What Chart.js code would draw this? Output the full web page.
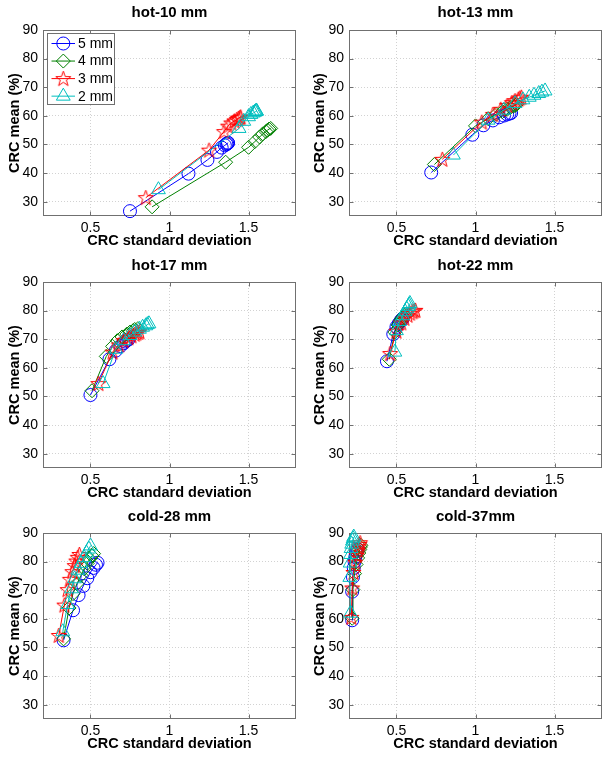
<!DOCTYPE html>
<html><head><meta charset="utf-8">
<script src="https://cdn.jsdelivr.net/npm/chart.js@4.4.1/dist/chart.umd.min.js"></script>
<style>
html,body{margin:0;padding:0;background:#fff;width:611px;height:757px;overflow:hidden}
canvas{position:absolute}
</style></head><body>
<canvas id="c0" width="305" height="250" style="left:0;top:0"></canvas>
<canvas id="c1" width="306" height="250" style="left:305px;top:0"></canvas>
<canvas id="c2" width="305" height="250" style="left:0;top:252px"></canvas>
<canvas id="c3" width="306" height="250" style="left:305px;top:252px"></canvas>
<canvas id="c4" width="305" height="250" style="left:0;top:503px"></canvas>
<canvas id="c5" width="306" height="250" style="left:305px;top:503px"></canvas>
<script>
// ---------- data ----------
const panelTitles = ['hot-10 mm', 'hot-13 mm', 'hot-17 mm', 'hot-22 mm', 'cold-28 mm', 'cold-37mm'];
const seriesLabels = ['5 mm', '4 mm', '3 mm', '2 mm'];
const xTicks = [0.5, 1, 1.5];
const yTicks = [30, 40, 50, 60, 70, 80, 90];
const xLabel = 'CRC standard deviation';
const yLabel = 'CRC mean (%)';

// [CRC std, CRC mean]
const hot10_5mm = [[0.75,26.7],[1.12,39.8],[1.24,44.6],[1.30,47.4],[1.33,48.9],[1.35,49.7],[1.36,50.1],[1.365,50.3],[1.37,50.5],[1.37,50.6]];
const hot10_4mm = [[0.89,28.2],[1.355,43.8],[1.50,49.0],[1.54,51.0],[1.57,52.6],[1.59,53.7],[1.61,54.5],[1.62,55.0],[1.63,55.4],[1.64,55.6]];
const hot10_3mm = [[0.85,31.4],[1.25,48.0],[1.345,54.5],[1.37,56.4],[1.39,57.5],[1.41,58.2],[1.425,58.7],[1.435,59.1],[1.445,59.4],[1.45,59.6]];
const hot10_2mm = [[0.93,34.2],[1.44,55.6],[1.47,58.1],[1.50,59.7],[1.515,60.5],[1.53,61.0],[1.54,61.3],[1.545,61.5],[1.55,61.6],[1.55,61.7]];

const hot13_5mm = [[0.72,40.2],[0.98,53.4],[1.05,56.7],[1.11,58.4],[1.15,59.5],[1.18,60.1],[1.20,60.5],[1.215,60.8],[1.225,61.0]];
const hot13_4mm = [[0.74,43.0],[1.00,56.5],[1.08,59.0],[1.13,60.5],[1.17,61.5],[1.20,62.3],[1.22,62.9],[1.24,63.4],[1.25,63.7],[1.26,64.0]];
const hot13_3mm = [[0.79,44.8],[1.04,57.8],[1.11,60.5],[1.16,62.3],[1.20,63.6],[1.23,64.6],[1.25,65.3],[1.27,65.8],[1.28,66.2],[1.29,66.5]];
const hot13_2mm = [[0.86,46.3],[1.08,58.5],[1.18,62.0],[1.25,64.3],[1.30,65.6],[1.34,66.5],[1.37,67.2],[1.40,67.8],[1.42,68.3],[1.44,68.7]];

const hot17_5mm = [[0.50,50.5],[0.62,63.0],[0.66,66.0],[0.69,67.6],[0.71,68.6],[0.72,69.2],[0.73,69.6],[0.74,69.9]];
const hot17_4mm = [[0.51,52.0],[0.60,64.0],[0.64,67.5],[0.67,69.5],[0.70,70.8],[0.73,71.8],[0.75,72.5],[0.77,73.0],[0.78,73.4],[0.80,73.7]];
const hot17_3mm = [[0.55,54.5],[0.64,65.5],[0.68,68.0],[0.71,69.5],[0.74,70.5],[0.76,71.2],[0.78,71.7],[0.79,72.1],[0.80,72.4],[0.81,72.6]];
const hot17_2mm = [[0.58,54.5],[0.66,66.5],[0.71,69.5],[0.75,71.3],[0.78,72.5],[0.81,73.5],[0.83,74.2],[0.85,74.7],[0.86,75.1],[0.87,75.4]];

const hot22_5mm = [[0.44,62.3],[0.48,71.8],[0.50,74.3],[0.515,75.5],[0.525,76.2],[0.53,76.7],[0.535,77.0],[0.54,77.2]];
const hot22_4mm = [[0.455,63.0],[0.49,72.5],[0.51,75.0],[0.525,76.4],[0.535,77.3],[0.545,77.9],[0.55,78.3],[0.555,78.6]];
const hot22_3mm = [[0.46,65.0],[0.50,72.8],[0.53,75.7],[0.55,77.3],[0.57,78.4],[0.585,79.1],[0.60,79.6],[0.61,79.9],[0.62,80.1]];
const hot22_2mm = [[0.49,65.5],[0.50,73.0],[0.52,76.2],[0.54,78.2],[0.555,79.6],[0.565,80.6],[0.575,81.4],[0.58,82.0],[0.585,82.5]];

const cold28_5mm = [[0.33,52.5],[0.39,63.0],[0.425,68.3],[0.455,71.5],[0.48,74.2],[0.50,76.3],[0.52,77.8],[0.535,78.9],[0.545,79.6]];
const cold28_4mm = [[0.33,53.0],[0.365,63.8],[0.39,68.8],[0.415,72.3],[0.44,75.2],[0.46,77.5],[0.48,79.4],[0.495,80.9],[0.51,82.0],[0.52,82.8]];
const cold28_3mm = [[0.30,54.2],[0.335,64.8],[0.355,70.2],[0.37,73.8],[0.385,76.5],[0.40,78.6],[0.41,80.2],[0.42,81.5],[0.43,82.5]];
const cold28_2mm = [[0.325,55.5],[0.355,65.0],[0.38,70.5],[0.40,74.0],[0.42,77.0],[0.44,79.4],[0.46,81.4],[0.475,83.0],[0.49,84.4],[0.50,85.5]];

const cold37_5mm = [[0.22,59.5],[0.22,69.5],[0.225,74.6],[0.23,77.8],[0.235,80.0],[0.24,81.6],[0.245,82.8],[0.25,83.7],[0.255,84.3]];
const cold37_4mm = [[0.22,60.2],[0.225,70.2],[0.235,75.8],[0.245,79.0],[0.255,81.3],[0.262,83.0],[0.268,84.2],[0.272,85.1],[0.275,85.7]];
const cold37_3mm = [[0.215,60.5],[0.22,70.8],[0.228,76.2],[0.238,79.8],[0.248,82.2],[0.255,84.0],[0.262,85.2],[0.266,86.0],[0.27,86.6]];
const cold37_2mm = [[0.21,62.0],[0.205,74.5],[0.207,79.5],[0.21,82.5],[0.213,84.6],[0.217,86.1],[0.222,87.2],[0.226,88.0],[0.23,88.6]];

const panelSeries = [
  [hot10_5mm, hot10_4mm, hot10_3mm, hot10_2mm],
  [hot13_5mm, hot13_4mm, hot13_3mm, hot13_2mm],
  [hot17_5mm, hot17_4mm, hot17_3mm, hot17_2mm],
  [hot22_5mm, hot22_4mm, hot22_3mm, hot22_2mm],
  [cold28_5mm, cold28_4mm, cold28_3mm, cold28_2mm],
  [cold37_5mm, cold37_4mm, cold37_3mm, cold37_2mm]
];

// ---------- styles ----------
const FONT = '"Liberation Sans", Arial, Helvetica, sans-serif';
Chart.defaults.font.family = FONT;
Chart.defaults.color = '#000';
const colors = ['#0000ff', '#008000', '#ff0000', '#00bfbf'];

function makeStar(color, R) {
  const s = Math.ceil(2 * R + 3);
  const c = document.createElement('canvas');
  c.width = s; c.height = s;
  const g = c.getContext('2d');
  g.strokeStyle = color; g.lineWidth = 1;
  g.beginPath();
  for (let i = 0; i < 10; i++) {
    const rr = i % 2 ? R * 0.4 : R;
    const a = -Math.PI / 2 + i * Math.PI / 5;
    const px = s / 2 + rr * Math.cos(a), py = s / 2 + 0.5 + rr * Math.sin(a);
    if (i) g.lineTo(px, py); else g.moveTo(px, py);
  }
  g.closePath(); g.stroke();
  return c;
}
const markerStyles = ['circle', 'rectRot', makeStar(colors[2], 8), 'triangle'];
const markerRadius = [6.5, 7, 8, 8];

function drawMarker(ctx, style, x, y, r, color) {
  ctx.save();
  ctx.strokeStyle = color; ctx.lineWidth = 1;
  if (typeof style === 'object') {
    ctx.drawImage(style, x - style.width / 2, y - style.height / 2);
    ctx.restore(); return;
  }
  ctx.beginPath();
  if (style === 'circle') ctx.arc(x, y, r, 0, 2 * Math.PI);
  else if (style === 'rectRot') { ctx.moveTo(x - r, y); ctx.lineTo(x, y - r); ctx.lineTo(x + r, y); ctx.lineTo(x, y + r); ctx.closePath(); }
  else if (style === 'triangle') {
    for (let k = 0; k < 3; k++) {
      const a = k * 2 * Math.PI / 3;
      const px = x + r * Math.sin(a), py = y - r * Math.cos(a);
      if (k) ctx.lineTo(px, py); else ctx.moveTo(px, py);
    }
    ctx.closePath();
  }
  ctx.stroke();
  ctx.restore();
}

const frame = {
  id: 'frame',
  beforeDatasetsDraw(chart) {
    const { ctx, chartArea: a, scales: { x, y } } = chart;
    ctx.save();
    ctx.strokeStyle = '#707070'; ctx.lineWidth = 1;
    const L = Math.round(a.left) + 0.5, R = Math.round(a.right) - 0.5;
    const T = Math.round(a.top) + 0.5, B = Math.round(a.bottom) - 0.5;
    ctx.strokeRect(L, T, R - L, B - T);
    ctx.beginPath();
    xTicks.forEach(v => {
      const px = Math.round(x.getPixelForValue(v)) + 0.5;
      ctx.moveTo(px, B); ctx.lineTo(px, B - 4);
      ctx.moveTo(px, T); ctx.lineTo(px, T + 4);
    });
    yTicks.forEach(v => {
      const py = Math.round(y.getPixelForValue(v)) + 0.5;
      ctx.moveTo(L, py); ctx.lineTo(L + 4, py);
      ctx.moveTo(R, py); ctx.lineTo(R - 4, py);
    });
    ctx.stroke();
    ctx.restore();
  }
};

const mlegend = {
  id: 'mlegend',
  afterDatasetsDraw(chart, args, opts) {
    if (!opts || !opts.show) return;
    const { ctx, chartArea: a } = chart;
    const x0 = Math.round(a.left) + 4, y0 = Math.round(a.top) + 3, w = 67, h = 71;
    ctx.save();
    ctx.fillStyle = '#fff';
    ctx.fillRect(x0, y0, w, h);
    ctx.strokeStyle = '#707070'; ctx.lineWidth = 1;
    ctx.strokeRect(x0 + 0.5, y0 + 0.5, w, h);
    chart.data.datasets.forEach((ds, i) => {
      const cy = y0 + 10.5 + i * 17.55;
      ctx.strokeStyle = ds.borderColor; ctx.lineWidth = 1;
      ctx.beginPath(); ctx.moveTo(x0 + 4.5, cy); ctx.lineTo(x0 + 28, cy); ctx.stroke();
      drawMarker(ctx, ds.pointStyle, x0 + 16.3, cy, ds.pointRadius, ds.borderColor);
      ctx.fillStyle = '#000';
      ctx.font = '14px ' + FONT;
      ctx.textBaseline = 'middle'; ctx.textAlign = 'left';
      ctx.fillText(ds.label, x0 + 31, cy + 0.5);
    });
    ctx.restore();
  }
};

panelSeries.forEach((series, p) => {
  const col = p % 2, row = Math.floor(p / 2);
  const titlePadTop = row === 0 ? 4 : 5;
  const ctx = document.getElementById('c' + p).getContext('2d');
  new Chart(ctx, {
    type: 'scatter',
    data: {
      datasets: series.map((pts, i) => ({
        label: seriesLabels[i],
        data: pts.map(([x, y]) => ({ x, y })),
        showLine: true,
        borderColor: colors[i],
        borderWidth: 1,
        backgroundColor: 'rgba(0,0,0,0)',
        pointStyle: markerStyles[i],
        pointRadius: markerRadius[i],
        pointHoverRadius: markerRadius[i],
        pointBorderColor: colors[i],
        pointBackgroundColor: 'rgba(0,0,0,0)',
        pointBorderWidth: 1,
        order: 3 - i,
        clip: false
      }))
    },
    options: {
      responsive: false,
      animation: false,
      events: [],
      devicePixelRatio: 1,
      layout: { padding: { left: 0, right: col === 0 ? 7 : 8, top: 0, bottom: 0 } },
      plugins: {
        legend: { display: false },
        tooltip: { enabled: false },
        title: {
          display: true, text: panelTitles[p], fullSize: false, color: '#000',
          font: { size: 15, weight: 'bold', family: FONT },
          padding: { top: titlePadTop, bottom: 30 - 18 - titlePadTop }
        },
        mlegend: { show: p === 0 }
      },
      scales: {
        x: {
          type: 'linear', position: 'bottom', min: 0.2, max: 1.8,
          afterBuildTicks: s => { s.ticks = xTicks.map(v => ({ value: v })); },
          afterFit: s => { s.height = 34; },
          ticks: { padding: 3.5, color: '#000', font: { size: 14, family: FONT }, maxRotation: 0, autoSkip: false,
                   callback: v => String(v) },
          grid: { color: '#d2d2d2', lineWidth: 1, drawTicks: false },
          border: { display: false, dash: [1, 2] },
          title: { display: true, text: xLabel, color: '#000', font: { size: 14.5, weight: 'bold', family: FONT }, padding: { top: 0, bottom: 0 } }
        },
        y: {
          type: 'linear', position: 'left', min: 25, max: 90,
          afterBuildTicks: s => { s.ticks = yTicks.map(v => ({ value: v })); },
          afterFit: s => { s.width = col === 0 ? 43 : 44; },
          ticks: { padding: 5, color: '#000', font: { size: 14, family: FONT }, autoSkip: false },
          grid: { color: '#d2d2d2', lineWidth: 1, drawTicks: false },
          border: { display: false, dash: [1, 2] },
          title: { display: true, text: yLabel, color: '#000', font: { size: 14.5, weight: 'bold', family: FONT }, padding: { top: 6, bottom: 0 } }
        }
      }
    },
    plugins: [frame, mlegend]
  });
});
</script>
</body></html>
